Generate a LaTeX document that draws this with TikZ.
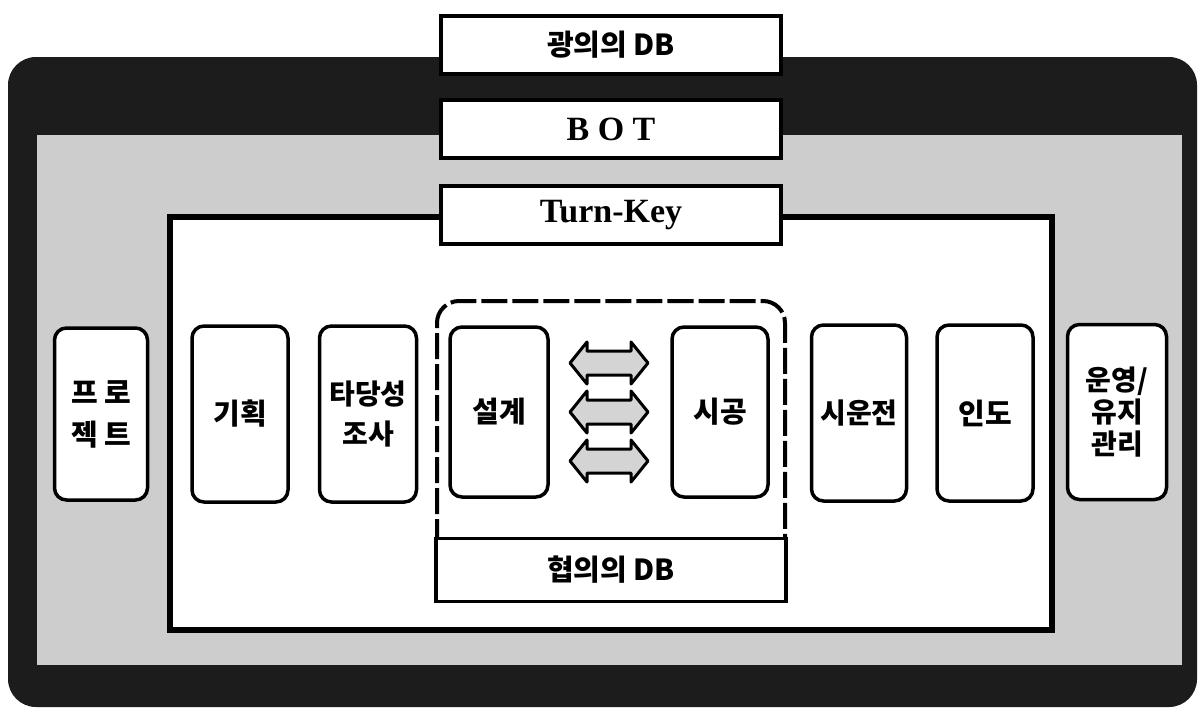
\documentclass[tikz,border=0pt]{standalone}
\usepackage{fontspec}
\setmainfont{Liberation Serif}
\newfontfamily\kr{Noto Sans CJK KR}
\definecolor{frameDark}{HTML}{1C1C1C}
\definecolor{frameLight}{HTML}{CDCDCD}
\definecolor{arrowFill}{HTML}{D4D4D4}
\begin{document}
\begin{tikzpicture}[x=1pt,y=-1pt,
  stagebox/.style={draw=black, line width=3.5, fill=white, rounded corners=12,
    inner sep=0, align=center, font=\kr\bfseries\fontsize{29}{34}\selectfont},
  topbox/.style={draw=black, line width=3.5, fill=white, inner sep=0,
    minimum width=340, minimum height=58},
  krlabel/.style={font=\kr\bfseries\fontsize{29}{32}\selectfont},
  enlabel/.style={font=\bfseries\fontsize{34}{36}\selectfont},
  dblarrow/.style={draw=black, line width=3, fill=arrowFill, line join=round}
]
\useasboundingbox (0,0) rectangle (1200,710);
\fill[white] (0,0) rectangle (1200,710);
% outer frame
\fill[frameDark, rounded corners=28] (8,57) rectangle (1197,707);
\fill[frameLight] (37,135) rectangle (1182,665);
% inner white area
\draw[line width=6, fill=white] (170,217) rectangle (1052,630);
% dashed region around design/construction
\draw[line width=4, dash pattern=on 26pt off 5pt, rounded corners=22]
  (437,545) -- (437,301) -- (785,301) -- (785,545);
% top boxes
\node[topbox, krlabel] (wide) at (611,45) {광의의 DB};
\node[topbox, enlabel] (bot) at (611,129) {B O T};
\node[topbox, enlabel] (tk) at (611,215) {Turn-Key};
\node[topbox, krlabel, minimum width=350, minimum height=63] (narrow) at (611,570) {협의의 DB};
% stage boxes
\node[stagebox, minimum width=93, minimum height=172,
  font=\kr\bfseries\fontsize{29}{42}\selectfont] (proj) at (101,414) {프 로\\젝 트};
\node[stagebox, minimum width=96, minimum height=176] (plan) at (240,414) {기획};
\node[stagebox, minimum width=97, minimum height=176,
  font=\kr\bfseries\fontsize{28}{40}\selectfont] (feas) at (368,414) {타당성\\조사};
\node[stagebox, minimum width=98, minimum height=170] (des) at (499,412) {설계};
\node[stagebox, minimum width=96, minimum height=170] (con) at (720,412) {시공};
\node[stagebox, minimum width=95, minimum height=176,
  font=\kr\bfseries\fontsize{28}{34}\selectfont] (test) at (859,413) {시운전};
\node[stagebox, minimum width=96, minimum height=176] (hand) at (985,413) {인도};
\node[stagebox, minimum width=99, minimum height=175,
  font=\kr\bfseries\fontsize{28}{32}\selectfont] (oper) at (1117,412) {운영/\\유지\\관리};
% double arrows between design and construction
\foreach \c/\n in {363/a1,412/a2,461/a3}{
  \coordinate (\n) at (609,\c);
  \draw[dblarrow] (570,\c) -- (587,\c-21) -- (587,\c-12) -- (631,\c-12)
    -- (631,\c-21) -- (648,\c) -- (631,\c+21) -- (631,\c+12)
    -- (587,\c+12) -- (587,\c+21) -- cycle;
}
\end{tikzpicture}
\end{document}
